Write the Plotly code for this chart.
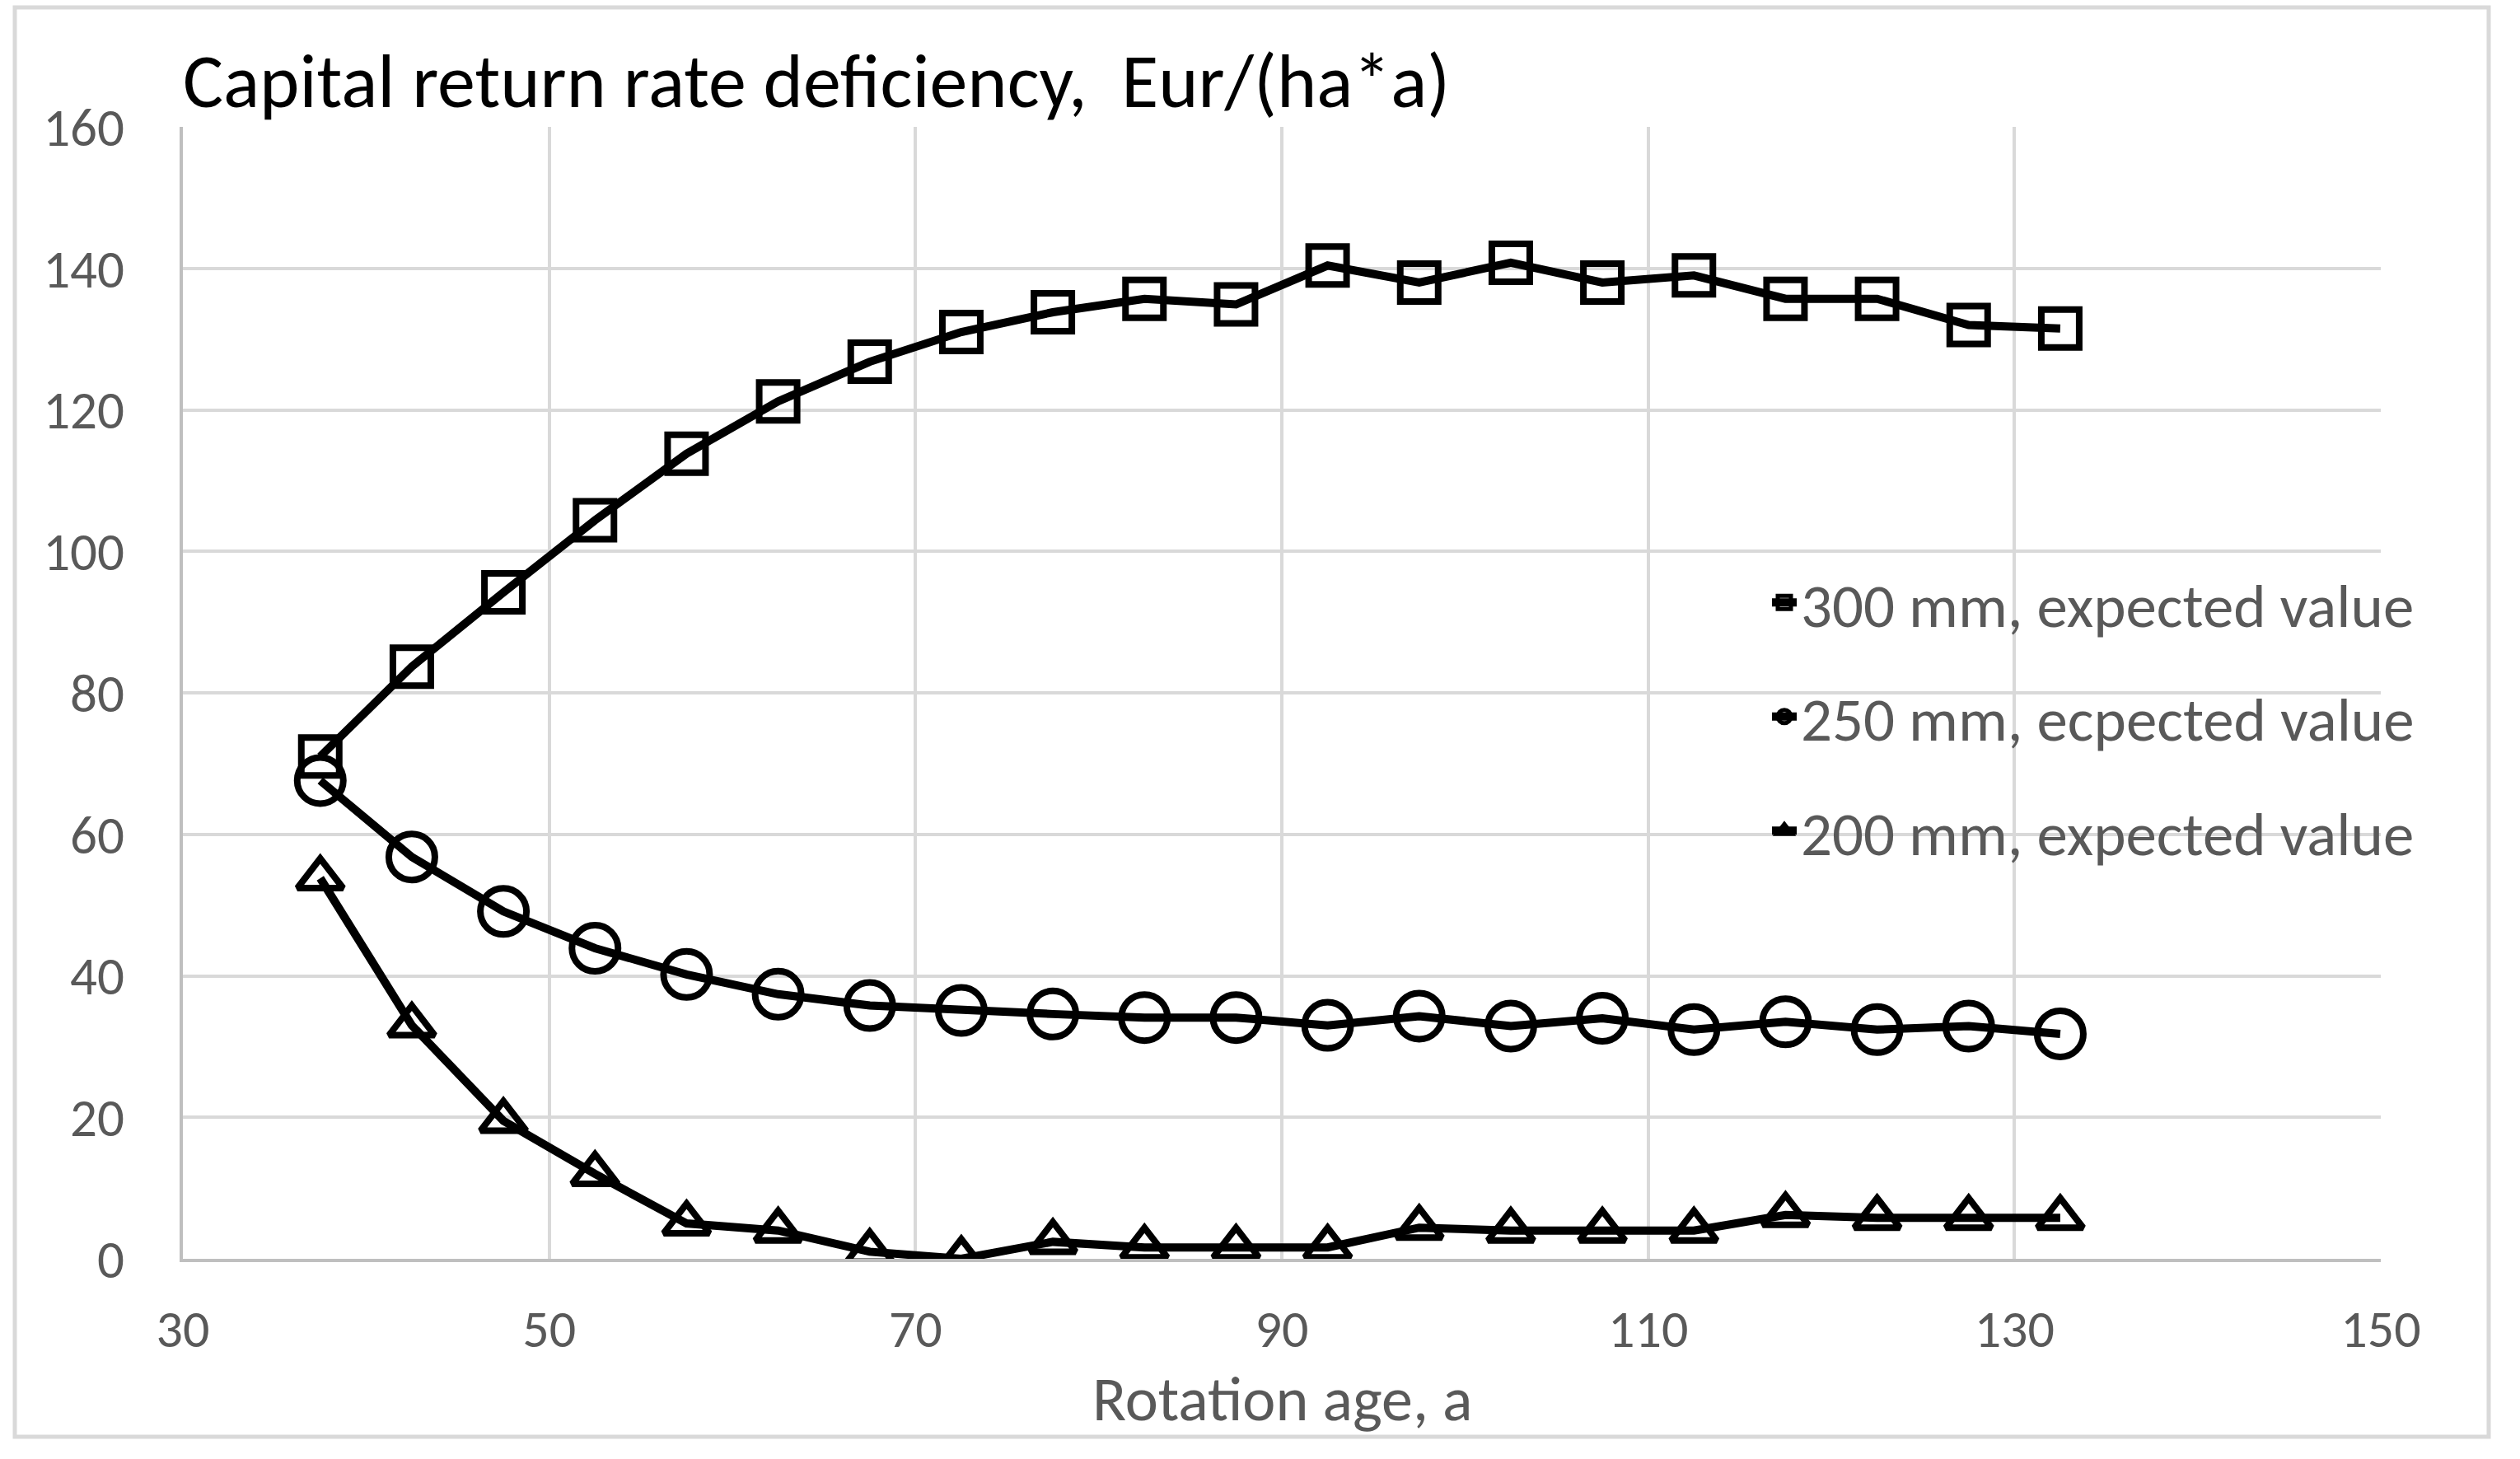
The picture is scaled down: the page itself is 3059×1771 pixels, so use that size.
import plotly.graph_objects as go

# ---- data ----
rotation_age = [37.5, 42.5, 47.5, 52.5, 57.5, 62.5, 67.5, 72.5, 77.5, 82.5,
                87.5, 92.5, 97.5, 102.5, 107.5, 112.5, 117.5, 122.5, 127.5, 132.5]
d300 = [71.0, 83.7, 94.2, 104.4, 113.8, 121.2, 126.8, 131.0, 133.8, 135.7,
        134.9, 140.4, 138.0, 140.8, 138.0, 139.0, 135.7, 135.7, 132.0, 131.5]
d250 = [67.6, 56.8, 49.1, 43.9, 40.2, 37.4, 35.8, 35.1, 34.6, 34.1,
        34.1, 33.0, 34.3, 32.9, 34.0, 32.4, 33.5, 32.4, 32.9, 31.8]
d200 = [53.8, 33.0, 19.5, 12.0, 5.0, 4.0, 1.0, 0.0, 2.4, 1.6,
        1.6, 1.6, 4.4, 4.0, 4.0, 4.0, 6.2, 5.8, 5.8, 5.8]
series_names = ["300 mm, expected value", "250 mm, ecpected value", "200 mm, expected value"]
x_ticks = [30, 50, 70, 90, 110, 130, 150]
y_ticks = [0, 20, 40, 60, 80, 100, 120, 140, 160]
title_text = "Capital return rate deficiency,  Eur/(ha*a)"
x_title = "Rotation age, a"

W, H = 3059, 1771
L, R, T, B = 222, W - 2890, 154, H - 1528
PW, PH = W - L - R, H - T - B

FONT = "Calibri, Carlito, Lato, sans-serif"
GRAY = "#595959"

fig = go.Figure()
symbols = ["square-open", "circle-open", "triangle-up-open"]
sizes = [46, 56, 48]
for name, ys, sym, sz, grp in zip(series_names, [d300, d250, d200], symbols, sizes, ["a", "b", "c"]):
    fig.add_trace(go.Scatter(
        x=rotation_age, y=ys, name=name, mode="lines+markers",
        legendgroup=grp,
        line=dict(color="black", width=10),
        marker=dict(symbol=sym, size=sz, color="black", line=dict(color="black", width=8)),
    ))

def px_x(p):
    return (p - L) / PW

def px_y(p):
    return (H - B - p) / PH

fig.update_layout(
    width=W, height=H,
    margin=dict(l=L, r=R, t=T, b=B, autoexpand=False),
    paper_bgcolor="white", plot_bgcolor="white",
    font=dict(family=FONT, color=GRAY, size=65),
    title=dict(text=title_text, x=0, xref="paper", xanchor="left",
               y=1 - 98 / H, yref="container", yanchor="middle",
               font=dict(family=FONT, color="black", size=92)),
    showlegend=True,
    legend=dict(x=px_x(2146), y=px_y(676), xanchor="left", yanchor="top",
                bgcolor="rgba(0,0,0,0)", font=dict(family=FONT, size=75, color=GRAY),
                tracegroupgap=38, traceorder="grouped", itemwidth=30, itemsizing="trace"),
    xaxis=dict(range=[30, 150], tickvals=x_ticks, showgrid=True, gridcolor="#d9d9d9", gridwidth=4,
               showline=True, linecolor="#bfbfbf", linewidth=4, zeroline=False,
               ticks="", ticklabelstandoff=26, tickfont=dict(size=64, color=GRAY)),
    yaxis=dict(range=[0, 160], tickvals=y_ticks, showgrid=True, gridcolor="#d9d9d9", gridwidth=4,
               showline=True, linecolor="#bfbfbf", linewidth=4, zeroline=False,
               ticks="", ticklabelstandoff=54, tickfont=dict(size=65, color=GRAY)),
    annotations=[dict(text=x_title, xref="paper", yref="paper", x=0.5, y=px_y(1698),
                      xanchor="center", yanchor="middle", showarrow=False,
                      font=dict(family=FONT, size=76, color=GRAY))],
    shapes=[dict(type="rect", xref="paper", yref="paper",
                 x0=px_x(18), x1=px_x(3021), y0=px_y(1744), y1=px_y(9),
                 line=dict(color="#d9d9d9", width=5), fillcolor="rgba(0,0,0,0)", layer="below")],
)

fig.write_html("out.html", config={"displayModeBar": False},
               post_script="document.body.style.margin='0';document.body.style.overflow='hidden';")
